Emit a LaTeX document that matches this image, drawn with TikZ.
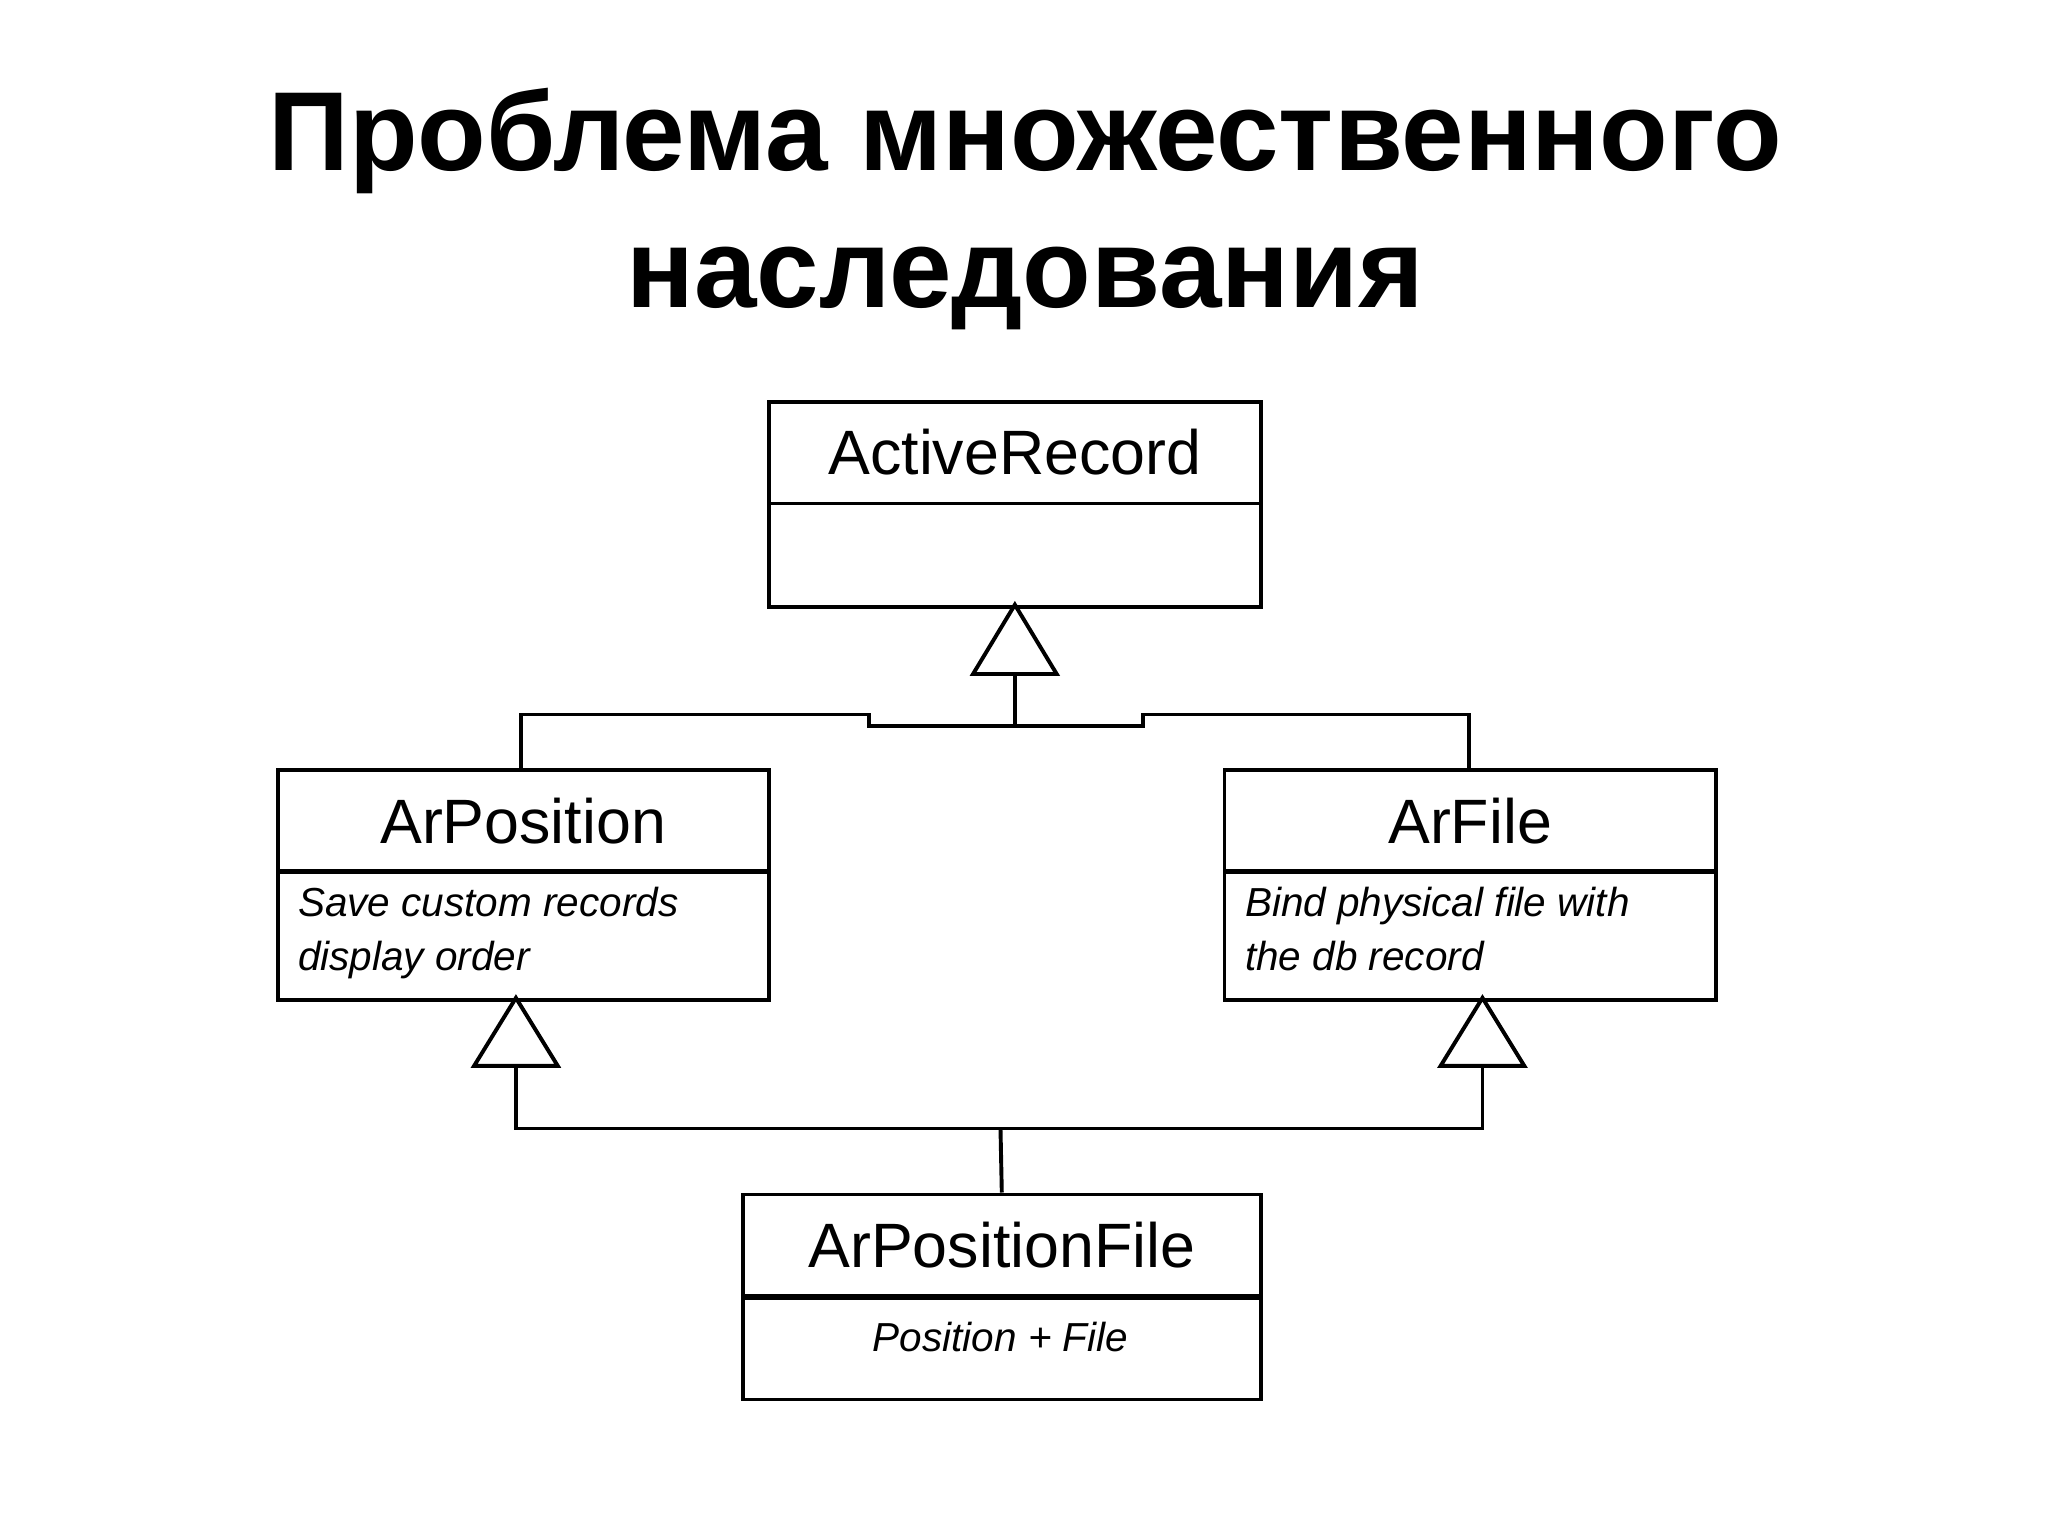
\documentclass[tikz,border=0pt]{standalone}
\usepackage{fontspec}
\setmainfont{Liberation Sans}
\begin{document}
\begin{tikzpicture}[x=1pt,y=-1pt,
  hd/.style={draw,line width=3pt,minimum width=377pt,minimum height=78pt,inner sep=0pt,font=\fontsize{48}{56}\selectfont,anchor=north west},
  bd/.style={draw,line width=3pt,minimum width=377pt,minimum height=99pt,inner sep=0pt,anchor=north west},
  it/.style={font=\fontsize{31}{41}\selectfont\itshape,align=left,anchor=north west,inner sep=0pt},
  ln/.style={line width=3pt},
  tri/.style={line width=3pt,fill=white}]
\useasboundingbox (0,0) rectangle (1568,1176);
\node[font=\fontsize{86}{105}\selectfont\bfseries,align=center] (title) at (785,160) {Проблема множественного\\наследования};
% ActiveRecord
\node[hd] (ar) at (587,306) {ActiveRecord};
\node[hd,minimum height=79pt] (arb) at (587,384) {};
% ArPosition
\node[hd,minimum width=376pt] (ap) at (211,588) {ArPosition};
\node[bd,minimum width=376pt] (apb) at (211,665) {};
\node[it] (apt) at (228,679) {Save custom records\\display order};
% ArFile
\node[hd,minimum width=376pt] (af) at (936,588) {ArFile};
\node[bd,minimum width=376pt] (afb) at (936,665) {};
\node[it] (aft) at (953,679) {Bind physical file with\\the db record};
% ArPositionFile
\node[hd,minimum width=397pt] (pf) at (567,913) {ArPositionFile};
\node[bd,minimum width=397pt,minimum height=78pt] (pfb) at (567,992) {};
\node[it,anchor=center] (pft) at (766,1024) {Position + File};
% triangles
\coordinate (t1) at (777,463);
\coordinate (t2) at (395,764);
\coordinate (t3) at (1135,764);
\coordinate (j1) at (766,864);
\draw[ln] (777,516) -- (777,556) -- (665,556) -- (665,547) -- (399,547) -- (399,588);
\draw[ln] (777,556) -- (875,556) -- (875,547) -- (1125,547) -- (1125,588);
\draw[tri] (t1) -- (809,516) -- (745,516) -- cycle;
\draw[ln] (395,816) -- (395,864) -- (1135,864) -- (1135,816);
\draw[ln] (j1) -- (pf.north);
\draw[tri] (t2) -- (427,816) -- (363,816) -- cycle;
\draw[tri] (t3) -- (1167,816) -- (1103,816) -- cycle;
\end{tikzpicture}
\end{document}
